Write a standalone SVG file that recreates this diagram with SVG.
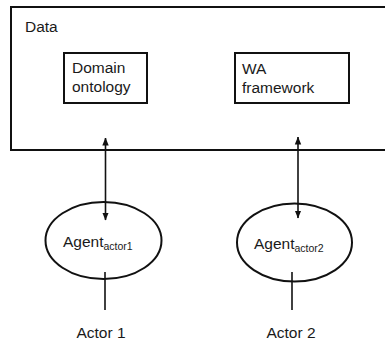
<svg xmlns="http://www.w3.org/2000/svg" width="385" height="347" viewBox="0 0 385 347">
  <style>
    .lbl { font-family: "Liberation Sans", Arial, sans-serif; font-size: 15.5px; fill: #1a1a1a; }
    .sub { font-size: 10.5px; }
    .box { fill: none; stroke: #111; stroke-width: 2; }
    .wire { stroke: #111; stroke-width: 1.6; fill: none; }
  </style>
  <defs>
    <marker id="head" viewBox="0 0 8 8" refX="7.5" refY="4" markerWidth="8" markerHeight="8" markerUnits="userSpaceOnUse" orient="auto-start-reverse">
      <path d="M0,0.8 L8,4 L0,7.2 Z" fill="#111"/>
    </marker>
  </defs>
  <rect width="385" height="347" fill="#fff"/>

  <!-- data store container, open on the right -->
  <g id="data">
    <rect class="box" x="11" y="7" width="390" height="143" stroke-width="2.4"/>
    <text class="lbl" x="25" y="32">Data</text>
  </g>

  <g id="domain-ontology">
    <rect class="box" x="64" y="53" width="83" height="50"/>
    <text class="lbl" x="72" y="73">Domain</text>
    <text class="lbl" x="72" y="92">ontology</text>
  </g>

  <g id="wa-framework">
    <rect class="box" x="235" y="53" width="114" height="50"/>
    <text class="lbl" x="242" y="74">WA</text>
    <text class="lbl" x="242" y="93">framework</text>
  </g>

  <g id="agent-actor1">
    <ellipse class="box" cx="103.5" cy="240.5" rx="58" ry="38.5"/>
    <text class="lbl" x="63" y="247">Agent<tspan class="sub" dy="3">actor1</tspan></text>
  </g>

  <g id="agent-actor2">
    <ellipse class="box" cx="294.5" cy="242.5" rx="57.5" ry="39"/>
    <text class="lbl" x="254" y="249">Agent<tspan class="sub" dy="3">actor2</tspan></text>
  </g>

  <g id="actor1">
    <text class="lbl" x="101" y="338" text-anchor="middle">Actor 1</text>
  </g>

  <g id="actor2">
    <text class="lbl" x="291" y="338" text-anchor="middle">Actor 2</text>
  </g>

  <g id="connectors">
    <line class="wire" x1="105.5" y1="138" x2="105.5" y2="220" marker-start="url(#head)" marker-end="url(#head)"/>
    <line class="wire" x1="298" y1="137" x2="298" y2="218" marker-start="url(#head)" marker-end="url(#head)"/>
    <line class="wire" x1="105" y1="272" x2="105" y2="310"/>
    <line class="wire" x1="292" y1="272" x2="292" y2="310"/>
  </g>
</svg>
